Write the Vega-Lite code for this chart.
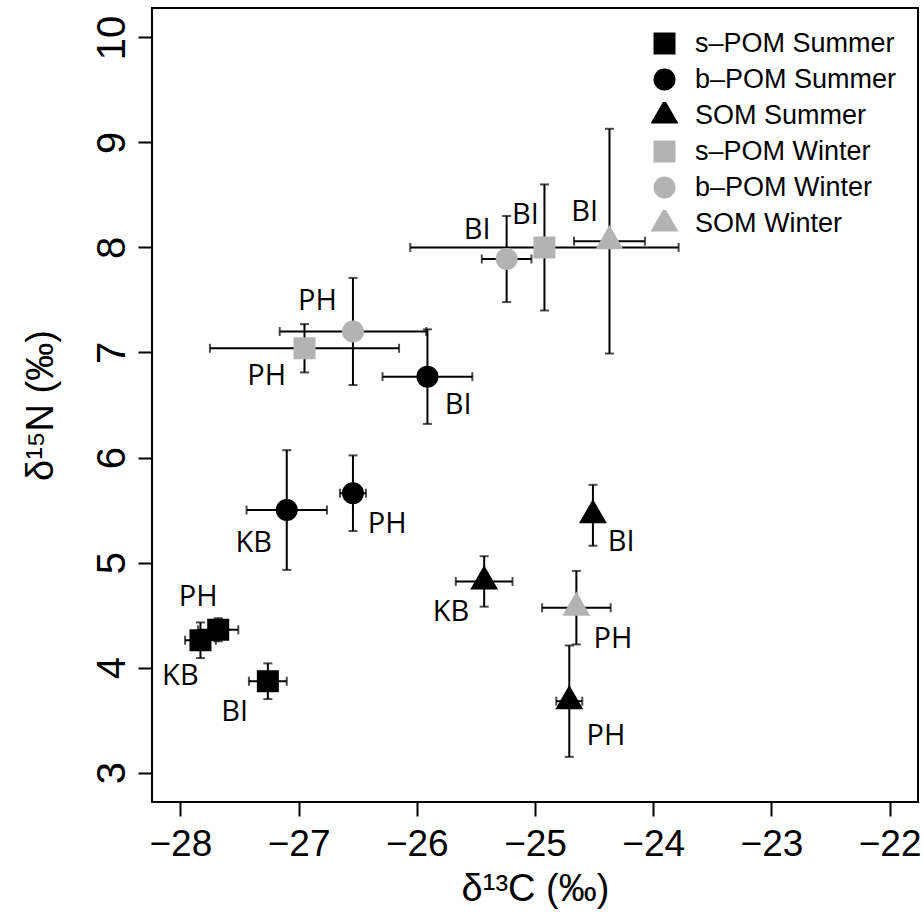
{
  "$schema": "https://vega.github.io/schema/vega-lite/v6.json",
  "autosize": {"type": "none"},
  "padding": {"left": 152, "top": 8, "right": 5, "bottom": 120},
  "width": 766,
  "height": 794,
  "background": "white",
  "config": {
    "view": {"stroke": "black", "strokeWidth": 2},
    "axis": {
      "grid": false,
      "domain": false,
      "ticks": true,
      "tickSize": 14,
      "tickWidth": 2,
      "tickColor": "black",
      "labelColor": "black",
      "labelFont": "Liberation Sans, sans-serif",
      "labelFontSize": 38,
      "titleFont": "Liberation Sans, sans-serif",
      "titleFontSize": 38,
      "titleFontWeight": "normal",
      "titleColor": "black"
    }
  },
  "data": {
    "values": [
      {"group": "s–POM Summer", "site": "KB", "x": -27.83, "y": 4.26, "xerr": 0.13, "yerr": 0.17, "lx": -28.0, "ly": 3.92},
      {"group": "s–POM Summer", "site": "PH", "x": -27.68, "y": 4.36, "xerr": 0.17, "yerr": 0.11, "lx": -27.85, "ly": 4.67},
      {"group": "s–POM Summer", "site": "BI", "x": -27.26, "y": 3.87, "xerr": 0.16, "yerr": 0.17, "lx": -27.54, "ly": 3.58},
      {"group": "b–POM Summer", "site": "KB", "x": -27.10, "y": 5.50, "xerr": 0.34, "yerr": 0.57, "lx": -27.38, "ly": 5.19},
      {"group": "b–POM Summer", "site": "PH", "x": -26.54, "y": 5.66, "xerr": 0.11, "yerr": 0.36, "lx": -26.25, "ly": 5.37},
      {"group": "b–POM Summer", "site": "BI", "x": -25.91, "y": 6.77, "xerr": 0.38, "yerr": 0.45, "lx": -25.65, "ly": 6.50},
      {"group": "SOM Summer", "site": "KB", "x": -25.43, "y": 4.82, "xerr": 0.24, "yerr": 0.24, "lx": -25.71, "ly": 4.53},
      {"group": "SOM Summer", "site": "PH", "x": -24.71, "y": 3.68, "xerr": 0.11, "yerr": 0.53, "lx": -24.40, "ly": 3.35},
      {"group": "SOM Summer", "site": "BI", "x": -24.51, "y": 5.45, "xerr": 0.03, "yerr": 0.29, "lx": -24.27, "ly": 5.20},
      {"group": "s–POM Winter", "site": "PH", "x": -26.95, "y": 7.04, "xerr": 0.80, "yerr": 0.23, "lx": -27.27, "ly": 6.78},
      {"group": "s–POM Winter", "site": "BI", "x": -24.92, "y": 8.00, "xerr": 1.135, "yerr": 0.60, "lx": -25.08, "ly": 8.31},
      {"group": "b–POM Winter", "site": "PH", "x": -26.54, "y": 7.20, "xerr": 0.62, "yerr": 0.51, "lx": -26.84, "ly": 7.49},
      {"group": "b–POM Winter", "site": "BI", "x": -25.24, "y": 7.89, "xerr": 0.21, "yerr": 0.41, "lx": -25.49, "ly": 8.17},
      {"group": "SOM Winter", "site": "PH", "x": -24.65, "y": 4.57, "xerr": 0.29, "yerr": 0.35, "lx": -24.34, "ly": 4.27},
      {"group": "SOM Winter", "site": "BI", "x": -24.37, "y": 8.06, "xerr": 0.30, "yerr": 1.07, "lx": -24.58, "ly": 8.34}
    ]
  },
  "layer": [
    {
      "mark": {"type": "errorbar", "color": "black", "thickness": 2, "size": 9, "ticks": true},
      "encoding": {
        "x": {"field": "x", "type": "quantitative", "title": "δ¹³C (‰)", "scale": {"domain": [-28.24, -21.76], "nice": false, "zero": false},
          "axis": {"values": [-28, -27, -26, -25, -24, -23, -22], "format": "d", "title": "δ¹³C (‰)", "labelFontSize": 37, "labelPadding": 10, "titlePadding": 8}},
        "xError": {"field": "xerr"},
        "y": {"field": "y", "type": "quantitative", "title": "δ¹⁵N (‰)", "scale": {"domain": [2.72, 10.28], "nice": false, "zero": false},
          "axis": {"values": [3, 4, 5, 6, 7, 8, 9, 10], "format": "d", "title": "δ¹⁵N (‰)", "labelFontSize": 40, "labelAngle": -90, "labelAlign": "center", "labelBaseline": "bottom", "labelPadding": 6, "titlePadding": 32}}
      }
    },
    {
      "mark": {"type": "errorbar", "color": "black", "thickness": 2, "size": 9, "ticks": true},
      "encoding": {
        "x": {"field": "x", "type": "quantitative", "title": "δ¹³C (‰)"},
        "y": {"field": "y", "type": "quantitative", "title": "δ¹⁵N (‰)"},
        "yError": {"field": "yerr"}
      }
    },
    {
      "mark": {"type": "point", "filled": true, "size": 484, "opacity": 1, "strokeWidth": 0},
      "encoding": {
        "x": {"field": "x", "type": "quantitative", "title": "δ¹³C (‰)"},
        "y": {"field": "y", "type": "quantitative", "title": "δ¹⁵N (‰)"},
        "color": {"field": "group", "type": "nominal",
          "scale": {"domain": ["s–POM Summer", "b–POM Summer", "SOM Summer", "s–POM Winter", "b–POM Winter", "SOM Winter"],
                    "range": ["black", "black", "black", "#b3b3b3", "#b3b3b3", "#b3b3b3"]},
          "legend": {"title": null, "orient": "none", "legendX": 499, "legendY": 22, "padding": 0,
                     "symbolSize": 484, "symbolStrokeWidth": 0, "labelFontSize": 27, "labelFont": "Liberation Sans, Arial, sans-serif",
                     "labelColor": "black", "rowPadding": 8, "clipHeight": 27, "labelOffset": 17, "labelLimit": 400}},
        "shape": {"field": "group", "type": "nominal",
          "scale": {"domain": ["s–POM Summer", "b–POM Summer", "SOM Summer", "s–POM Winter", "b–POM Winter", "SOM Winter"],
                    "range": ["square", "circle", "M0,-1.47L1.27,0.73L-1.27,0.73Z", "square", "circle", "M0,-1.47L1.27,0.73L-1.27,0.73Z"]}}
      }
    },
    {
      "mark": {"type": "text", "font": "Open Sans", "fontSize": 29, "align": "center", "baseline": "middle", "color": "black"},
      "encoding": {
        "x": {"field": "lx", "type": "quantitative", "title": "δ¹³C (‰)"},
        "y": {"field": "ly", "type": "quantitative", "title": "δ¹⁵N (‰)"},
        "text": {"field": "site"}
      }
    }
  ]
}
